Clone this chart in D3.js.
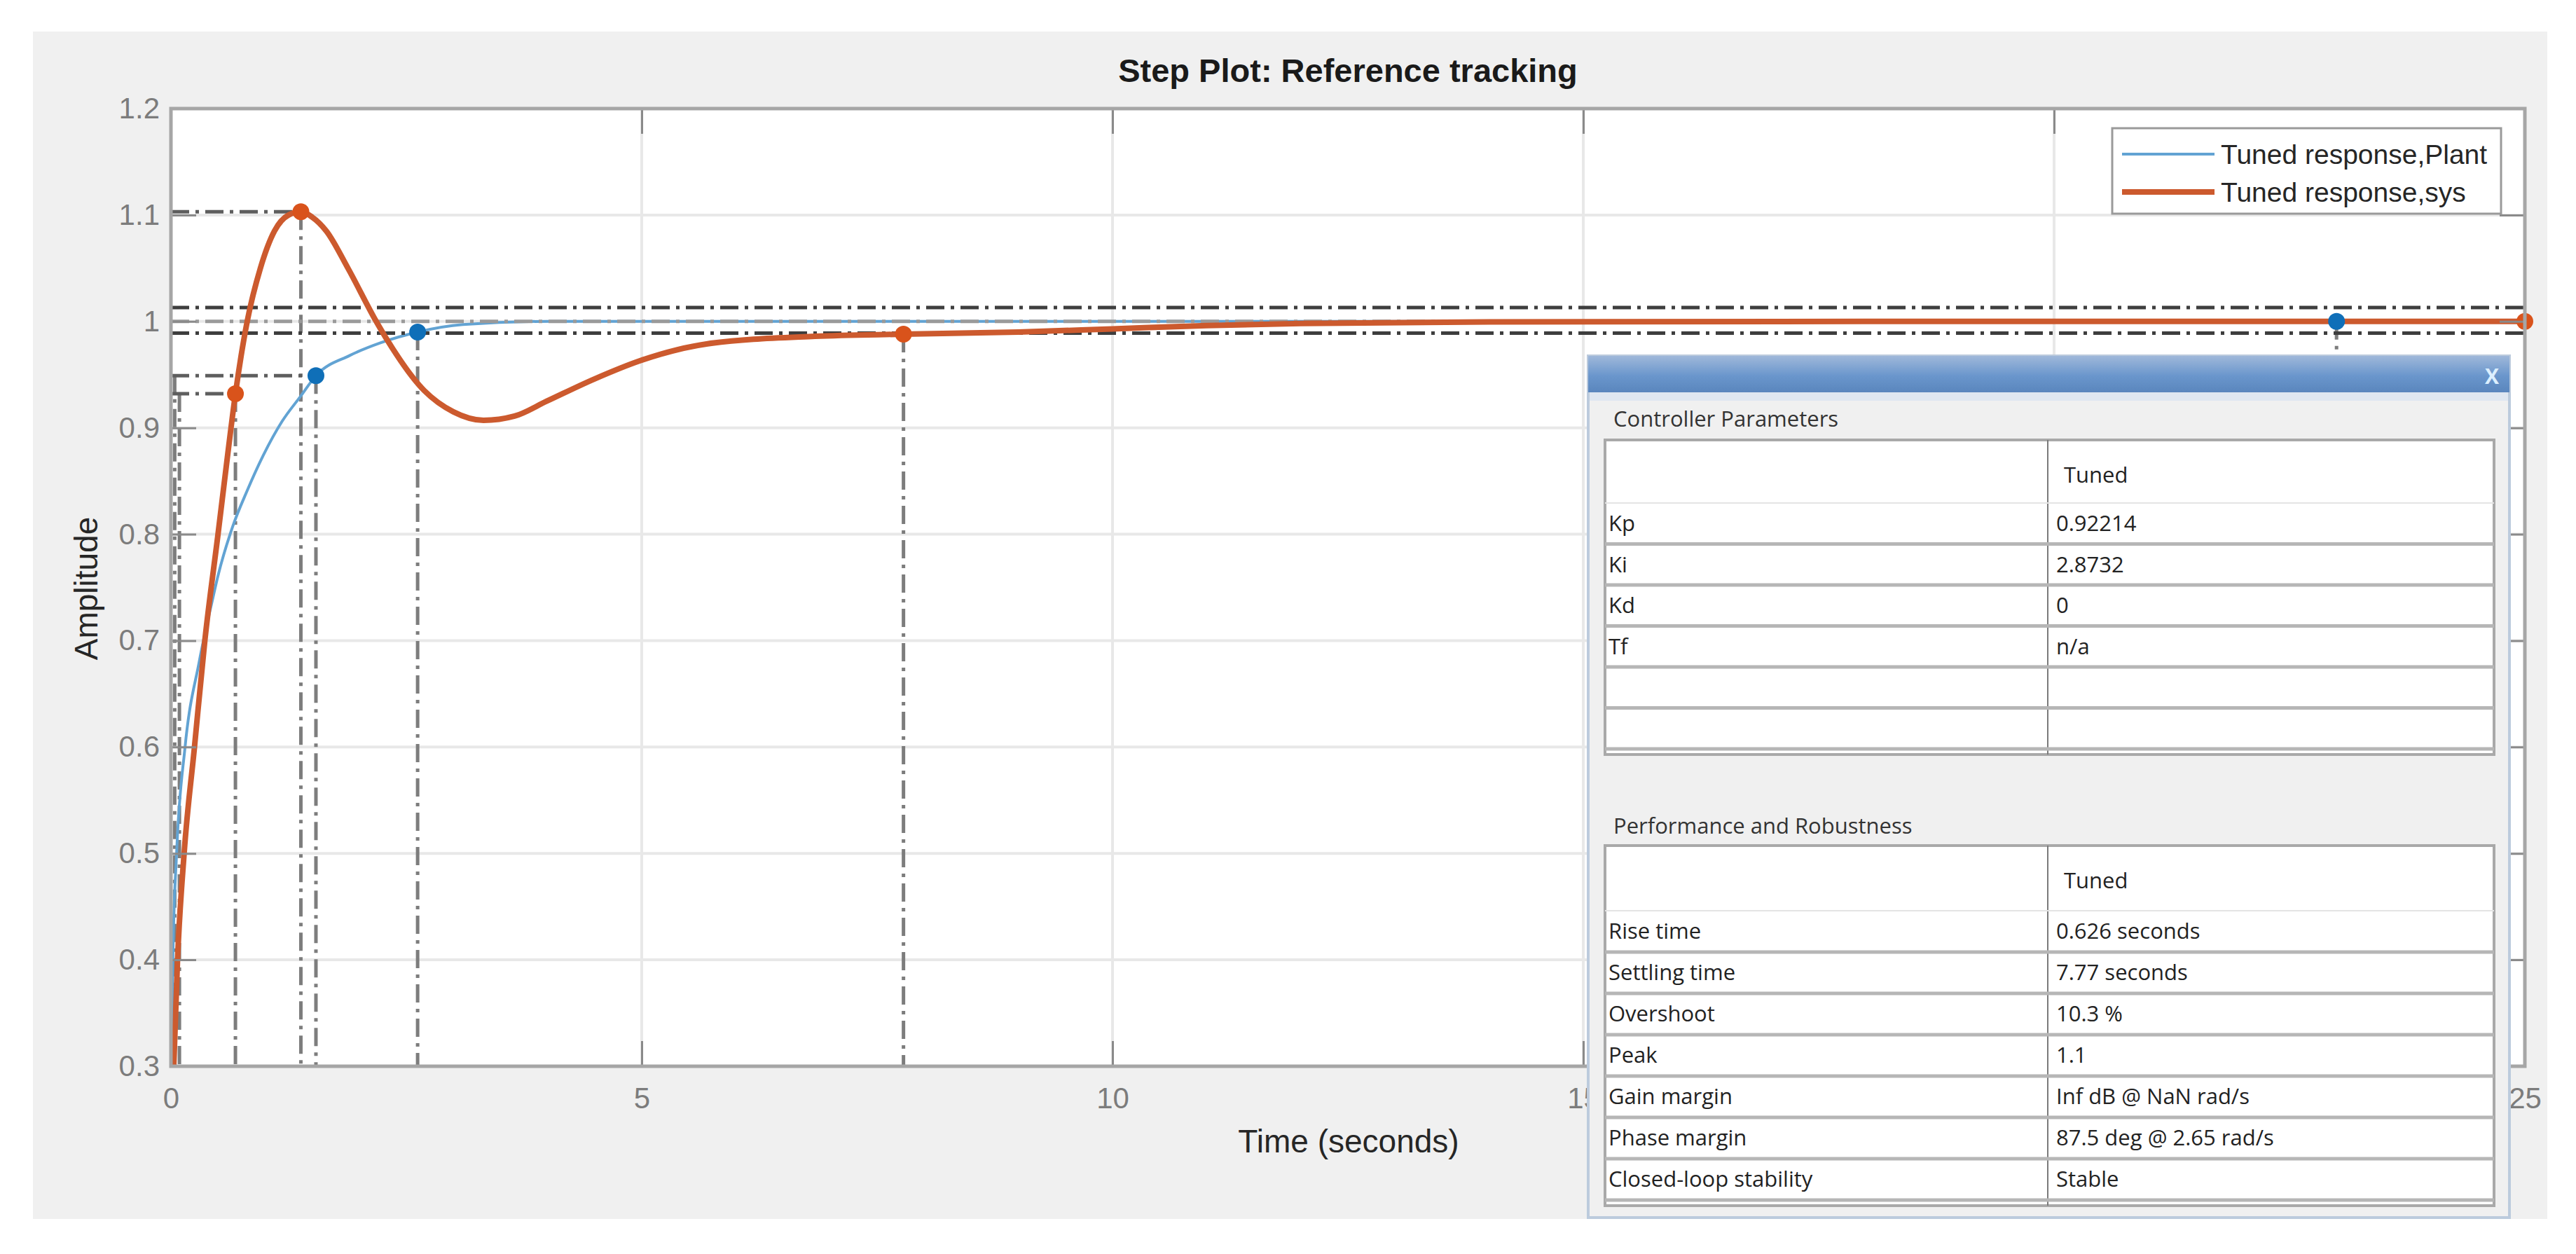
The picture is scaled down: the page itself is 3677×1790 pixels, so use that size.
<!DOCTYPE html>
<html>
<head>
<meta charset="UTF-8"/>
<style>
  body { margin: 0; background: #fff; }
</style>
</head>
<body>
<script src="https://cdn.jsdelivr.net/npm/d3@7"></script>
<script>
// step plot data

var xTicks = [0, 5, 10, 15, 20, 25];
var yTicks = [0.3, 0.4, 0.5, 0.6, 0.7, 0.8, 0.9, 1, 1.1, 1.2];

// Tuned response, Plant (blue)
var plantT = [0, 0.02, 0.06, 0.15, 0.3, 0.44, 0.5, 0.655, 0.81, 0.98, 1.18, 1.38, 1.54, 1.9, 2.23, 2.62, 3.1, 4, 6, 10, 25];
var plantY = [0.25, 0.4, 0.5, 0.6, 0.68, 0.738, 0.761, 0.807, 0.841, 0.874, 0.906, 0.93, 0.949, 0.968, 0.98, 0.99, 0.997, 1.0, 1.0, 1.0, 1.0];

// Tuned response, sys (orange)
var sysT = [0, 0.03, 0.07, 0.14, 0.25, 0.36, 0.5, 0.61, 0.685, 0.81, 0.95, 1.1, 1.25, 1.38, 1.5, 1.65, 1.88, 2.18, 2.28, 2.69, 3.0, 3.32, 3.65, 3.99, 4.5, 4.98, 5.7, 6.84, 7.78, 9, 10, 11, 12, 14, 18, 25];
var sysY = [0.25, 0.3, 0.4, 0.5, 0.6, 0.7, 0.8, 0.88, 0.932, 1.0, 1.05, 1.085, 1.1, 1.103, 1.098, 1.085, 1.05, 1.0, 0.985, 0.935, 0.915, 0.907, 0.911, 0.925, 0.946, 0.963, 0.979, 0.986, 0.988, 0.99, 0.993, 0.996, 0.998, 0.9995, 1.0, 1.0];

// characteristic points (rise, peak, settling, final)
var plantMarkT = [1.54, 2.62, 23.0];
var plantMarkY = [0.949, 0.99, 1.0];
var sysMarkT = [0.685, 1.38, 7.78, 25];
var sysMarkY = [0.932, 1.103, 0.988, 1.0];

// dash-dot guide lines
var bandY = [1.013, 1.0, 0.989];             // full width
var shortHY = [1.103, 0.949, 0.932];          // from t=0 to the marker
var shortHT = [1.38, 1.54, 0.685];
var vLineT = [0.04, 0.09, 0.685, 1.38, 1.54, 2.62, 7.78, 23.0];
var vLineY = [0.95, 0.932, 0.932, 1.103, 0.949, 0.99, 0.988, 1.0];

var legendLabels = ["Tuned response,Plant", "Tuned response,sys"];

var ctrlRows = [["Kp", "0.92214"], ["Ki", "2.8732"], ["Kd", "0"], ["Tf", "n/a"], ["", ""], ["", ""]];
var perfRows = [["Rise time", "0.626 seconds"], ["Settling time", "7.77 seconds"], ["Overshoot", "10.3 %"],
                ["Peak", "1.1"], ["Gain margin", "Inf dB @ NaN rad/s"], ["Phase margin", "87.5 deg @ 2.65 rad/s"],
                ["Closed-loop stability", "Stable"]];

var W = 3677, H = 1790;
var pLeft = 244, pRight = 3604, pTop = 155, pBottom = 1522;

var svg = d3.select("body").append("svg")
  .attr("width", W).attr("height", H)
  .style("font-family", "'Liberation Sans', Arial, sans-serif");

var x = d3.scaleLinear().domain([0, 25]).range([pLeft, pRight]);
var y = d3.scaleLinear().domain([0.3, 1.2]).range([pBottom, pTop]);

var defs = svg.append("defs");
defs.append("clipPath").attr("id", "plotclip")
  .append("rect").attr("x", pLeft).attr("y", pTop).attr("width", pRight - pLeft).attr("height", pBottom - pTop);
var grad = defs.append("linearGradient").attr("id", "bar").attr("x1", 0).attr("y1", 0).attr("x2", 0).attr("y2", 1);
grad.append("stop").attr("offset", "0%").attr("stop-color", "#9fb8da");
grad.append("stop").attr("offset", "55%").attr("stop-color", "#6a96cc");
grad.append("stop").attr("offset", "100%").attr("stop-color", "#5a86bd");

// figure background
svg.append("rect").attr("x", 47).attr("y", 45).attr("width", 3589).attr("height", 1695).attr("fill", "#f0f0f0");
svg.append("rect").attr("x", pLeft).attr("y", pTop).attr("width", pRight - pLeft).attr("height", pBottom - pTop).attr("fill", "#fff");

// grid
var grid = svg.append("g");
grid.selectAll("line.gx").data(xTicks).enter().append("line")
  .attr("x1", function(d){ return x(d); }).attr("x2", function(d){ return x(d); })
  .attr("y1", pTop).attr("y2", pBottom)
  .attr("stroke", "#e8e8e8").attr("stroke-width", 4);
grid.selectAll("line.gy").data(yTicks).enter().append("line")
  .attr("y1", function(d){ return y(d); }).attr("y2", function(d){ return y(d); })
  .attr("x1", pLeft).attr("x2", pRight)
  .attr("stroke", "#e8e8e8").attr("stroke-width", 4);

var plotG = svg.append("g").attr("clip-path", "url(#plotclip)");
var dash = "26,9,5,9";

// vertical guides
plotG.selectAll("line.v").data(vLineT).enter().append("line")
  .attr("x1", function(d){ return x(d); }).attr("x2", function(d){ return x(d); })
  .attr("y1", function(d, i){ return y(vLineY[i]); }).attr("y2", pBottom)
  .attr("stroke", "#7d7d7d").attr("stroke-width", 5).attr("stroke-dasharray", dash);

// horizontal guides
plotG.selectAll("line.sh").data(shortHY).enter().append("line")
  .attr("y1", function(d){ return y(d); }).attr("y2", function(d){ return y(d); })
  .attr("x1", pLeft).attr("x2", function(d, i){ return x(shortHT[i]); })
  .attr("stroke", "#5e5e5e").attr("stroke-width", 5).attr("stroke-dasharray", dash);

var line = d3.line()
  .x(function(d){ return x(d[0]); })
  .y(function(d){ return y(d[1]); })
  .curve(d3.curveMonotoneX);

plotG.append("path")
  .datum(plantT.map(function(t, i){ return [t, plantY[i]]; }))
  .attr("d", line).attr("fill", "none")
  .attr("stroke", "#62a3d3").attr("stroke-width", 4);

plotG.selectAll("line.band").data(bandY).enter().append("line")
  .attr("y1", function(d){ return y(d); }).attr("y2", function(d){ return y(d); })
  .attr("x1", pLeft).attr("x2", pRight)
  .attr("stroke", function(d){ return d === 1 ? "#9a9a9a" : "#3e3e3e"; })
  .attr("stroke-width", 5).attr("stroke-dasharray", dash);

plotG.append("path")
  .datum(sysT.map(function(t, i){ return [t, sysY[i]]; }))
  .attr("d", line).attr("fill", "none")
  .attr("stroke", "#cc5a2e").attr("stroke-width", 8);

// markers
svg.selectAll("circle.pm").data(plantMarkT).enter().append("circle")
  .attr("cx", function(d){ return x(d); }).attr("cy", function(d, i){ return y(plantMarkY[i]); })
  .attr("r", 12).attr("fill", "#0f6fb8");
svg.selectAll("circle.sm").data(sysMarkT).enter().append("circle")
  .attr("cx", function(d){ return x(d); }).attr("cy", function(d, i){ return y(sysMarkY[i]); })
  .attr("r", 12).attr("fill", "#d9531b");

// axes, ticks pointing inwards
var tickCol = "#8a8a8a";
var axB = svg.append("g").attr("transform", "translate(0," + pBottom + ")")
  .call(d3.axisBottom(x).tickValues(xTicks).tickSizeInner(-36).tickSizeOuter(0).tickPadding(30));
var axL = svg.append("g").attr("transform", "translate(" + pLeft + ",0)")
  .call(d3.axisLeft(y).tickValues(yTicks).tickFormat(d3.format("~g")).tickSizeInner(-36).tickSizeOuter(0).tickPadding(16));
var axT = svg.append("g").attr("transform", "translate(0," + pTop + ")")
  .call(d3.axisTop(x).tickValues(xTicks).tickFormat("").tickSizeInner(-36).tickSizeOuter(0));
var axR = svg.append("g").attr("transform", "translate(" + pRight + ",0)")
  .call(d3.axisRight(y).tickValues(yTicks).tickFormat("").tickSizeInner(-36).tickSizeOuter(0));
[axB, axL, axT, axR].forEach(function(a){
  a.select(".domain").remove();
  a.selectAll(".tick line").attr("stroke", tickCol).attr("stroke-width", 3);
  a.selectAll("text").attr("fill", "#7c7c7c").style("font-size", "42px")
    .style("font-family", "'Liberation Sans', Arial, sans-serif");
});

svg.append("rect").attr("x", pLeft).attr("y", pTop).attr("width", pRight - pLeft).attr("height", pBottom - pTop)
  .attr("fill", "none").attr("stroke", "#a6a6a6").attr("stroke-width", 5);

// titles
svg.append("text").attr("x", (pLeft + pRight) / 2).attr("y", 117)
  .attr("text-anchor", "middle").attr("font-size", 47).attr("font-weight", "bold").attr("fill", "#1a1a1a")
  .text("Step Plot: Reference tracking");
svg.append("text").attr("x", 1925).attr("y", 1645)
  .attr("text-anchor", "middle").attr("font-size", 46).attr("fill", "#262626")
  .text("Time (seconds)");
svg.append("text").attr("transform", "translate(139,840) rotate(-90)")
  .attr("text-anchor", "middle").attr("font-size", 46).attr("fill", "#262626")
  .text("Amplitude");

// legend
var leg = svg.append("g").attr("transform", "translate(3015,183)");
leg.append("rect").attr("width", 555).attr("height", 122).attr("fill", "#fff")
  .attr("stroke", "#9a9a9a").attr("stroke-width", 3);
var legColors = ["#62a3d3", "#cc5a2e"], legWidths = [4, 8];
legendLabels.forEach(function(lbl, i){
  var yy = 37 + i * 54;
  leg.append("line").attr("x1", 14).attr("x2", 146).attr("y1", yy).attr("y2", yy)
    .attr("stroke", legColors[i]).attr("stroke-width", legWidths[i]);
  leg.append("text").attr("x", 155).attr("y", yy).attr("dy", "0.35em")
    .attr("font-size", 39).attr("fill", "#262626").text(lbl);
});

// tuner panel on top of the plot
var pf = "'Open Sans', 'Noto Sans', sans-serif";
var panel = svg.append("g").style("font-family", pf);
panel.append("rect").attr("x", 2267).attr("y", 508).attr("width", 1315).attr("height", 1230)
  .attr("fill", "#f0f0f0").attr("stroke", "#bccbdd").attr("stroke-width", 4);
panel.append("rect").attr("x", 2267).attr("y", 508).attr("width", 1315).attr("height", 52).attr("fill", "url(#bar)");
panel.append("rect").attr("x", 2269).attr("y", 560).attr("width", 1311).attr("height", 12).attr("fill", "#dfe7f1");
panel.append("text").attr("x", 3557).attr("y", 537).attr("dy", "0.35em").attr("text-anchor", "middle")
  .attr("font-size", 30).attr("font-weight", "bold").attr("fill", "#dcefff").text("X");

function drawTable(title, titleY, tableY, headerH, rowH, rows) {
  var tx = 2291, tw = 1269, colX = 2923;
  var th = headerH + rowH * rows.length + 8;
  panel.append("text").attr("x", 2303).attr("y", titleY).attr("dy", "0.35em")
    .attr("font-size", 31).attr("fill", "#333").text(title);
  panel.append("rect").attr("x", tx).attr("y", tableY).attr("width", tw).attr("height", th)
    .attr("fill", "#fff").attr("stroke", "#a9a9a9").attr("stroke-width", 4);
  panel.append("line").attr("x1", colX).attr("x2", colX).attr("y1", tableY).attr("y2", tableY + th)
    .attr("stroke", "#7a7a7a").attr("stroke-width", 2);
  panel.append("line").attr("x1", tx).attr("x2", tx + tw).attr("y1", tableY + headerH).attr("y2", tableY + headerH)
    .attr("stroke", "#e4e4e4").attr("stroke-width", 2);
  panel.append("text").attr("x", colX + 23).attr("y", tableY + 50).attr("dy", "0.35em")
    .attr("font-size", 31).attr("fill", "#222").text("Tuned");
  rows.forEach(function(r, i){
    var ry = tableY + headerH + i * rowH;
    panel.append("line").attr("x1", tx).attr("x2", tx + tw).attr("y1", ry + rowH).attr("y2", ry + rowH)
      .attr("stroke", "#b6b6b6").attr("stroke-width", 5);
    panel.append("text").attr("x", tx + 5).attr("y", ry + rowH / 2).attr("dy", "0.35em")
      .attr("font-size", 31).attr("fill", "#222").text(r[0]);
    panel.append("text").attr("x", colX + 12).attr("y", ry + rowH / 2).attr("dy", "0.35em")
      .attr("font-size", 31).attr("fill", "#222").text(r[1]);
  });
}

drawTable("Controller Parameters", 598, 628, 90, 58.5, ctrlRows);
drawTable("Performance and Robustness", 1179, 1207, 93, 59, perfRows);
</script>
</body>
</html>
